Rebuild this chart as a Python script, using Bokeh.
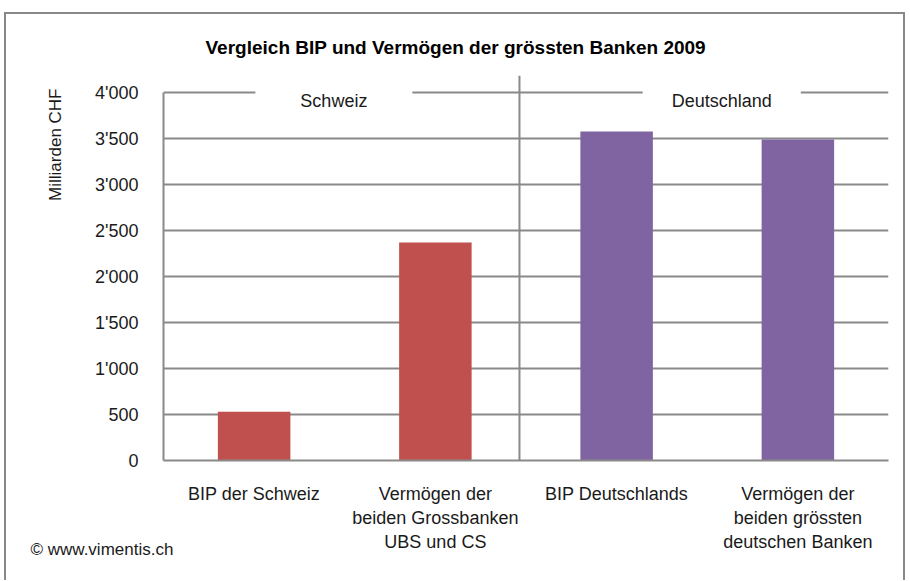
from bokeh.plotting import figure
from bokeh.models import FactorRange, Range1d, FixedTicker, Span, Label, Title, ColumnDataSource
from bokeh.embed import file_html
from bokeh.resources import INLINE

# ---- data ----
categories = [
    "BIP der Schweiz",
    "Vermögen der\nbeiden Grossbanken\nUBS und CS",
    "BIP Deutschlands",
    "Vermögen der\nbeiden grössten\ndeutschen Banken",
]
values = [530, 2370, 3575, 3490]
bar_colors = ["#C0504D", "#C0504D", "#8064A2", "#8064A2"]
group_names = ["Schweiz", "Deutschland"]
y_ticks = [0, 500, 1000, 1500, 2000, 2500, 3000, 3500, 4000]
y_tick_labels = ["0", "500", "1'000", "1'500", "2'000", "2'500", "3'000", "3'500", "4'000"]
title_text = "Vergleich BIP und Vermögen der grössten Banken 2009"
y_title = "Milliarden CHF"
footer = "© www.vimentis.ch"

FONT = "Liberation Sans"
GRAY = "#898989"
TXT = "#1a1a1a"

p = figure(
    width=908, height=580,
    x_range=FactorRange(*categories),
    y_range=Range1d(0, 4185),
    output_backend="svg", toolbar_location=None,
    min_border_left=163, min_border_right=20,
    min_border_top=75, min_border_bottom=120,
)
p.outline_line_color = None
p.background_fill_color = "white"
p.border_fill_color = None
p.styles = {
    "background-color": "white",
    "box-shadow": (
        "inset 0 12px 0 0 white, inset 4px 0 0 0 white, inset -3px 0 0 0 white, "
        "inset 0 14px 0 0 #898989, inset 6px 0 0 0 #898989, inset -5px 0 0 0 #898989"
    ),
}

src = ColumnDataSource(dict(cat=categories, val=values, color=bar_colors))
p.vbar(x="cat", top="val", width=0.4, color="color", line_color=None, source=src)

# title
p.title.text = title_text
p.title.align = "left"
p.title.offset = 42
p.title.standoff = 36
p.title.text_font = FONT
p.title.text_font_size = "19px"
p.title.text_font_style = "bold"
p.title.text_color = "black"

# axes
p.yaxis.ticker = FixedTicker(ticks=y_ticks)
p.yaxis.major_label_overrides = {t: l for t, l in zip(y_ticks, y_tick_labels)}
p.yaxis.bounds = (0, 4000)
for ax in (p.xaxis, p.yaxis):
    ax.axis_line_color = GRAY
    ax.axis_line_width = 2
    ax.major_tick_line_color = None
    ax.minor_tick_line_color = None
    ax.major_label_text_font = FONT
    ax.major_label_text_font_size = "18px"
    ax.major_label_text_color = TXT
p.yaxis.major_label_standoff = 19
p.xaxis.major_label_standoff = 17

p.xgrid.grid_line_color = None
p.ygrid.grid_line_color = GRAY
p.ygrid.grid_line_width = 2

# separator between groups
p.add_layout(Span(location=1.964, dimension="height", line_color=GRAY, line_width=2))

# group labels with white background
pads = [45, 29]
xs = [0.94, 3.08]
for name, x, pad in zip(group_names, xs, pads):
    p.add_layout(Label(
        x=x, y=3913, text=name, text_align="center", text_baseline="middle",
        text_font=FONT, text_font_size="18px", text_color=TXT,
        background_fill_color="white",
        padding=dict(left=pad, right=pad, top=3, bottom=3),
    ))

# y axis title (as a side title)
p.add_layout(Title(
    text=y_title, align="right", offset=13, standoff=55,
    text_font=FONT, text_font_size="17px", text_font_style="normal", text_color=TXT,
), "left")

# footer (as a bottom title)
p.add_layout(Title(
    text=footer, align="left", vertical_align="top", offset=-133, standoff=-29,
    text_font=FONT, text_font_size="17px", text_font_style="normal", text_color=TXT,
), "below")

open("out.html", "w").write(file_html(p, INLINE))
